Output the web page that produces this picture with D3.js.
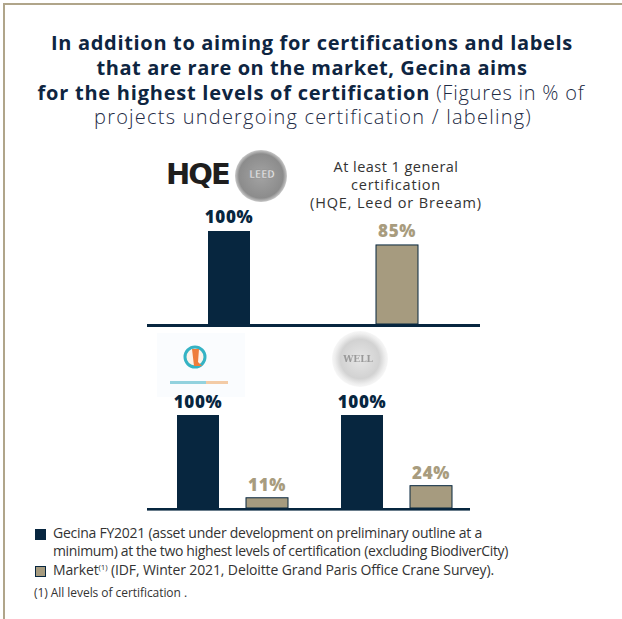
<!DOCTYPE html>
<html>
<head>
<meta charset="utf-8">
<script src="https://cdn.jsdelivr.net/npm/d3@7"></script>
<style>
  html, body { margin: 0; padding: 0; background: #fff; }
  svg { display: block; }
</style>
</head>
<body>
<div id="chart"></div>
<script>
// values
var series = ["Gecina", "Market"];
var topGroup = ["At least 1 general certification"];
var topValues = [100, 85];
var bottomGroups = ["BiodiverCity", "WELL"];
var gecinaBottom = [100, 100];
var marketBottom = [11, 24];

var titleLines = [
  "In addition to aiming for certifications and labels",
  "that are rare on the market, Gecina aims"
];
var noteLines = ["At least 1 general", "certification", "(HQE, Leed or Breeam)"];
var legendTexts = [
  "Gecina FY2021 (asset under development on preliminary outline at a",
  "minimum) at the two highest levels of certification (excluding BiodiverCity)"
];

var navy = "#07263f", tan = "#a69b7f", tanText = "#a89c7e", frame = "#b0a58a";
var font = "'Open Sans', sans-serif";

var W = 622, H = 619;
var svg = d3.select("#chart").append("svg").attr("width", W).attr("height", H);

// frame
svg.append("line").attr("x1", 3).attr("x2", W).attr("y1", 4).attr("y2", 4)
  .attr("stroke", frame).attr("stroke-width", 2);
svg.append("line").attr("x1", 4).attr("x2", 4).attr("y1", 3).attr("y2", H)
  .attr("stroke", frame).attr("stroke-width", 2);

// stretch a text to a target width with letter spacing (keeps font size)
function spread(sel, width) {
  var n = sel.node();
  var w = n.getBBox().width;
  var chars = n.textContent.length;
  sel.attr("letter-spacing", (width - w) / chars);
}

// title
var title = svg.append("g").attr("font-family", font).attr("fill", "#0e2541").attr("text-anchor", "middle");
title.selectAll("text.tl").data(titleLines).enter().append("text")
  .attr("class", "tl")
  .attr("x", 312).attr("y", function(d, i) { return 50 + i * 25; })
  .attr("font-weight", 700).attr("font-size", 20)
  .text(function(d) { return d; })
  .each(function(d, i) { spread(d3.select(this), i === 0 ? 522 : 431); });

var t3 = title.append("text").attr("x", 311).attr("y", 100).attr("font-size", 20);
t3.append("tspan").attr("font-weight", 700).text("for the highest levels of certification");
t3.append("tspan").attr("font-weight", 300).attr("fill", "#1e2b45").text(" (Figures in % of");
spread(t3, 549);
var t4 = title.append("text").attr("x", 313).attr("y", 124).attr("font-size", 20)
  .attr("font-weight", 300).attr("fill", "#1e2b45")
  .text("projects undergoing certification / labeling)");
spread(t4, 438);

// ---------- logos (drawn approximations, behind the bars) ----------
var defs = svg.append("defs");
var lg = defs.append("radialGradient").attr("id", "leed");
lg.append("stop").attr("offset", "0%").attr("stop-color", "#a3a3a3");
lg.append("stop").attr("offset", "85%").attr("stop-color", "#8c8c8c");
lg.append("stop").attr("offset", "100%").attr("stop-color", "#c9c9c9");
var wg = defs.append("radialGradient").attr("id", "well");
wg.append("stop").attr("offset", "0%").attr("stop-color", "#e6e6e6");
wg.append("stop").attr("offset", "70%").attr("stop-color", "#d2d2d2");
wg.append("stop").attr("offset", "90%").attr("stop-color", "#eeeeee");
wg.append("stop").attr("offset", "100%").attr("stop-color", "#f7f7f7");
defs.append("filter").attr("id", "blur").append("feGaussianBlur").attr("stdDeviation", 0.7);

var logos = svg.append("g");
logos.append("text").attr("x", 166).attr("y", 184).attr("font-family", "'DejaVu Sans', sans-serif")
  .attr("font-weight", 700).attr("font-size", 29).attr("fill", "#1e1e1e").attr("letter-spacing", -2)
  .text("HQE");
logos.append("circle").attr("cx", 261).attr("cy", 176).attr("r", 26).attr("fill", "url(#leed)")
  .attr("filter", "url(#blur)");
logos.append("text").attr("x", 262).attr("y", 178).attr("text-anchor", "middle")
  .attr("font-family", "'DejaVu Sans Condensed', sans-serif").attr("font-size", 10).attr("font-weight", 700)
  .attr("fill", "#e6e6e6").attr("stroke", "#8a8a8a").attr("stroke-width", 0.4)
  .text("LEED");

var bio = logos.append("g").attr("filter", "url(#blur)");
bio.append("rect").attr("x", 157).attr("y", 333).attr("width", 88).attr("height", 64).attr("fill", "#fafcfe");
bio.append("circle").attr("cx", 195).attr("cy", 357).attr("r", 10).attr("fill", "#fdf3ea")
  .attr("stroke", "#35b3c4").attr("stroke-width", 3);
bio.append("path").attr("d", "M192,349 L199,349 L198,362 L202,366 L194,366 Z").attr("fill", "#ee7d3a");
bio.append("rect").attr("x", 170).attr("y", 381).attr("width", 36).attr("height", 3).attr("fill", "#93d2de");
bio.append("rect").attr("x", 206).attr("y", 381).attr("width", 22).attr("height", 3).attr("fill", "#f3cba6");

var well = logos.append("g").attr("filter", "url(#blur)");
well.append("circle").attr("cx", 360).attr("cy", 359).attr("r", 28).attr("fill", "url(#well)");
well.append("text").attr("x", 358).attr("y", 362).attr("text-anchor", "middle")
  .attr("font-family", "'DejaVu Serif', serif").attr("font-size", 9).attr("font-weight", 700)
  .attr("fill", "#9a9a9a").text("WELL");

// ---------- top panel ----------
var yTop = d3.scaleLinear().domain([0, 100]).range([324, 231]);
var xTop = d3.scaleBand().domain(series).range([208, 418]).paddingInner(0.75);

var topG = svg.append("g");
topG.selectAll("rect").data(topValues).enter().append("rect")
  .attr("x", function(d, i) { return xTop(series[i]); })
  .attr("width", xTop.bandwidth())
  .attr("y", function(d) { return yTop(d); })
  .attr("height", function(d) { return yTop(0) - yTop(d); })
  .attr("fill", function(d, i) { return i === 0 ? navy : tan; })
  .attr("stroke", function(d, i) { return i === 0 ? "none" : navy; })
  .attr("stroke-width", 1);
topG.selectAll("text").data(topValues).enter().append("text")
  .attr("x", function(d, i) { return xTop(series[i]) + xTop.bandwidth() / 2; })
  .attr("y", function(d) { return yTop(d) - 8; })
  .attr("text-anchor", "middle").attr("font-family", font).attr("font-weight", 800)
  .attr("font-size", 17).attr("letter-spacing", 0.6)
  .attr("fill", function(d, i) { return i === 0 ? navy : tanText; })
  .text(function(d) { return d + "%"; });
topG.append("rect").attr("x", 147).attr("width", 333).attr("y", 324).attr("height", 3).attr("fill", navy);

// note
svg.append("g").attr("font-family", font).attr("font-size", 14.5).attr("fill", "#333")
  .attr("text-anchor", "middle")
  .selectAll("text").data(noteLines).enter().append("text")
  .attr("x", 396).attr("y", function(d, i) { return 172 + i * 18; })
  .text(function(d) { return d; })
  .each(function(d, i) { spread(d3.select(this), [125, 90, 172][i]); });

// ---------- bottom panel ----------
var yBot = d3.scaleLinear().domain([0, 100]).range([508, 415]);
var x0 = d3.scaleBand().domain(bottomGroups).range([150, 478]);
var x1 = d3.scaleBand().domain(series).range([27, 138]).paddingInner(27 / 69);

var botData = [];
bottomGroups.forEach(function(g, i) {
  botData.push({ group: g, s: "Gecina", v: gecinaBottom[i] });
  botData.push({ group: g, s: "Market", v: marketBottom[i] });
});
var botG = svg.append("g");
botG.selectAll("rect").data(botData).enter().append("rect")
  .attr("x", function(d) { return x0(d.group) + x1(d.s); })
  .attr("width", x1.bandwidth())
  .attr("y", function(d) { return yBot(d.v); })
  .attr("height", function(d) { return yBot(0) - yBot(d.v); })
  .attr("fill", function(d) { return d.s === "Gecina" ? navy : tan; })
  .attr("stroke", function(d) { return d.s === "Gecina" ? "none" : navy; })
  .attr("stroke-width", 1);
botG.selectAll("text").data(botData).enter().append("text")
  .attr("x", function(d) { return x0(d.group) + x1(d.s) + x1.bandwidth() / 2; })
  .attr("y", function(d) { return yBot(d.v) - 7; })
  .attr("text-anchor", "middle").attr("font-family", font).attr("font-weight", 800)
  .attr("font-size", 17).attr("letter-spacing", 0.6)
  .attr("fill", function(d) { return d.s === "Gecina" ? navy : tanText; })
  .text(function(d) { return d.v + "%"; });
botG.append("rect").attr("x", 147).attr("width", 323).attr("y", 508).attr("height", 2.6).attr("fill", navy);

// ---------- legend ----------
var leg = svg.append("g").attr("font-family", font).attr("fill", "#333");
leg.append("rect").attr("x", 35.5).attr("y", 529.5).attr("width", 10).attr("height", 10)
  .attr("fill", navy).attr("stroke", navy);
leg.append("rect").attr("x", 35.5).attr("y", 566.5).attr("width", 10).attr("height", 10)
  .attr("fill", tan).attr("stroke", navy);
leg.selectAll("text.lg").data(legendTexts).enter().append("text")
  .attr("class", "lg").attr("x", 53).attr("y", function(d, i) { return 538 + i * 18; })
  .attr("font-size", 14).text(function(d) { return d; })
  .each(function(d, i) { spread(d3.select(this), i === 0 ? 429 : 455); });
var m = leg.append("text").attr("x", 53).attr("y", 575).attr("font-size", 14);
m.append("tspan").text("Market");
m.append("tspan").attr("font-size", 8).attr("dy", -5).text("(1)");
m.append("tspan").attr("dy", 5).text(" (IDF, Winter 2021, Deloitte Grand Paris Office Crane Survey).");
spread(m, 441);
var fn = leg.append("text").attr("x", 34).attr("y", 597).attr("font-size", 12)
  .text("(1) All levels of certification .");
spread(fn, 153);
</script>
</body>
</html>
